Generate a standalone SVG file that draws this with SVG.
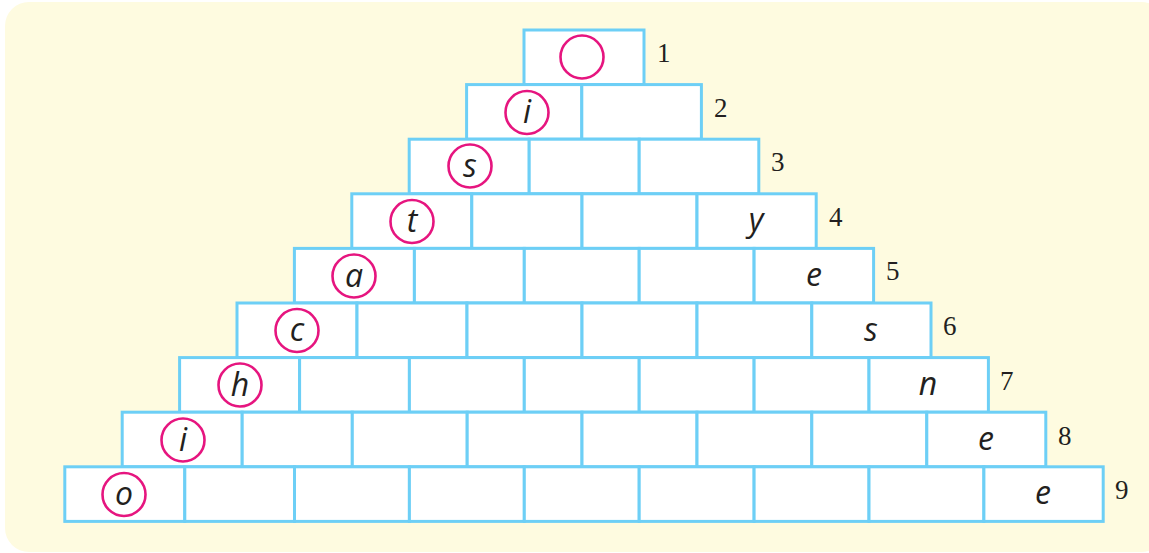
<svg xmlns="http://www.w3.org/2000/svg" width="1149" height="553" viewBox="0 0 1149 553">
<style>
.bg{fill:#fefbe0}
.c{fill:#ffffff;stroke:#6dcff6;stroke-width:3}
.o{fill:none;stroke:#e6157f;stroke-width:2.6}
.l{font-family:"Open Sans","DejaVu Sans",sans-serif;font-style:italic;font-size:32px;fill:#231f20;text-anchor:middle}
.n{font-family:"Liberation Serif","Times New Roman",serif;font-size:27px;fill:#231f20}
</style>
<rect class="bg" x="5" y="2" width="1160" height="550" rx="24"/>
<g id="row1">
<rect class="c" x="524" y="30" width="120" height="54.6"/>
<circle class="o" cx="582" cy="57" r="21.5"/>
<text class="n" x="657" y="62">1</text>
</g>
<g id="row2">
<rect class="c" x="466.6" y="84.6" width="115.2" height="54.6"/>
<rect class="c" x="581.8" y="84.6" width="119.6" height="54.6"/>
<circle class="o" cx="527" cy="112.5" r="21.5"/>
<text class="l" x="527" y="123">i</text>
<text class="n" x="714" y="117">2</text>
</g>
<g id="row3">
<rect class="c" x="409.2" y="139.2" width="120" height="54.6"/>
<rect class="c" x="529.2" y="139.2" width="110" height="54.6"/>
<rect class="c" x="639.2" y="139.2" width="119.6" height="54.6"/>
<circle class="o" cx="470" cy="166" r="21.5"/>
<text class="l" x="470" y="177">s</text>
<text class="n" x="771" y="171">3</text>
</g>
<g id="row4">
<rect class="c" x="351.8" y="193.8" width="120" height="54.6"/>
<rect class="c" x="471.8" y="193.8" width="110.2" height="54.6"/>
<rect class="c" x="582" y="193.8" width="115" height="54.6"/>
<rect class="c" x="697" y="193.8" width="119.2" height="54.6"/>
<circle class="o" cx="412" cy="221.5" r="21.5"/>
<text class="l" x="412" y="232">t</text>
<text class="l" x="756" y="231">y</text>
<text class="n" x="829" y="226">4</text>
</g>
<g id="row5">
<rect class="c" x="294.4" y="248.4" width="120" height="54.6"/>
<rect class="c" x="414.4" y="248.4" width="109.9" height="54.6"/>
<rect class="c" x="524.3" y="248.4" width="114.9" height="54.6"/>
<rect class="c" x="639.2" y="248.4" width="114.9" height="54.6"/>
<rect class="c" x="754.1" y="248.4" width="119.5" height="54.6"/>
<circle class="o" cx="354" cy="276" r="21.5"/>
<text class="l" x="354" y="287">a</text>
<text class="l" x="814" y="286">e</text>
<text class="n" x="886" y="280">5</text>
</g>
<g id="row6">
<rect class="c" x="237" y="303" width="120" height="54.6"/>
<rect class="c" x="357" y="303" width="110" height="54.6"/>
<rect class="c" x="467" y="303" width="115" height="54.6"/>
<rect class="c" x="582" y="303" width="115" height="54.6"/>
<rect class="c" x="697" y="303" width="114.8" height="54.6"/>
<rect class="c" x="811.8" y="303" width="119.2" height="54.6"/>
<circle class="o" cx="297" cy="330.5" r="21.5"/>
<text class="l" x="297" y="341">c</text>
<text class="l" x="871" y="341">s</text>
<text class="n" x="943" y="335">6</text>
</g>
<g id="row7">
<rect class="c" x="179.6" y="357.6" width="120" height="54.6"/>
<rect class="c" x="299.6" y="357.6" width="109.8" height="54.6"/>
<rect class="c" x="409.4" y="357.6" width="114.9" height="54.6"/>
<rect class="c" x="524.3" y="357.6" width="114.9" height="54.6"/>
<rect class="c" x="639.2" y="357.6" width="114.9" height="54.6"/>
<rect class="c" x="754.1" y="357.6" width="114.9" height="54.6"/>
<rect class="c" x="869" y="357.6" width="119.4" height="54.6"/>
<circle class="o" cx="240" cy="385" r="21.5"/>
<text class="l" x="240" y="396">h</text>
<text class="l" x="928" y="395">n</text>
<text class="n" x="1000" y="390">7</text>
</g>
<g id="row8">
<rect class="c" x="122.2" y="412.2" width="120" height="54.6"/>
<rect class="c" x="242.2" y="412.2" width="110.1" height="54.6"/>
<rect class="c" x="352.3" y="412.2" width="114.9" height="54.6"/>
<rect class="c" x="467.2" y="412.2" width="114.8" height="54.6"/>
<rect class="c" x="582" y="412.2" width="115" height="54.6"/>
<rect class="c" x="697" y="412.2" width="114.8" height="54.6"/>
<rect class="c" x="811.8" y="412.2" width="115" height="54.6"/>
<rect class="c" x="926.8" y="412.2" width="119" height="54.6"/>
<circle class="o" cx="183" cy="440" r="21.5"/>
<text class="l" x="183" y="451">i</text>
<text class="l" x="986" y="450">e</text>
<text class="n" x="1058" y="445">8</text>
</g>
<g id="row9">
<rect class="c" x="64.8" y="466.8" width="120" height="54.6"/>
<rect class="c" x="184.8" y="466.8" width="109.7" height="54.6"/>
<rect class="c" x="294.5" y="466.8" width="114.9" height="54.6"/>
<rect class="c" x="409.4" y="466.8" width="114.9" height="54.6"/>
<rect class="c" x="524.3" y="466.8" width="114.9" height="54.6"/>
<rect class="c" x="639.2" y="466.8" width="114.9" height="54.6"/>
<rect class="c" x="754.1" y="466.8" width="114.9" height="54.6"/>
<rect class="c" x="869" y="466.8" width="114.9" height="54.6"/>
<rect class="c" x="983.9" y="466.8" width="119.3" height="54.6"/>
<circle class="o" cx="124" cy="494.5" r="21.5"/>
<text class="l" x="124" y="505">o</text>
<text class="l" x="1043" y="504">e</text>
<text class="n" x="1115" y="499">9</text>
</g>
<g id="connectors"/>
</svg>
